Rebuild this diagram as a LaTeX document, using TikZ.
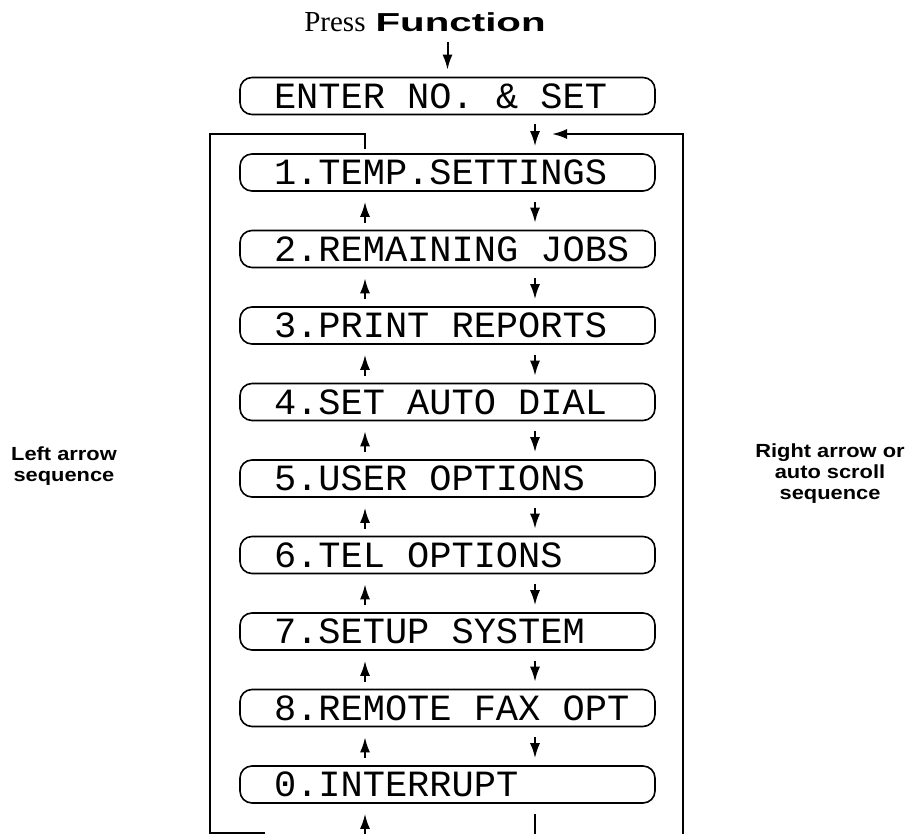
\documentclass[tikz,border=0pt]{standalone}
\usepackage{fontspec}
\setmainfont{Liberation Serif}
\newfontfamily\lcdfont{Liberation Mono}
\newfontfamily\widesans[FakeStretch=1.55]{Liberation Sans}
\newfontfamily\labelsans[FakeStretch=1.15]{Liberation Sans}
\usetikzlibrary{arrows.meta, positioning}
\newcommand\lcdsp{\hspace*{0.6em}}

\begin{document}
\begin{tikzpicture}[x=0.5pt, y=-0.5pt,
  menu/.style={draw, line width=0.8pt, rounded corners=6pt, minimum width=207.5pt, minimum height=18.5pt, inner xsep=10pt, inner ysep=0pt, text width=187.5pt, align=left, font=\lcdfont\fontsize{18.5}{20}\selectfont, execute at begin node={\hspace*{7pt}}},
  link/.style={line width=1pt},
  dnarrow/.style={link, -{Latex[length=7.5pt,width=5pt]}, shorten <=5pt, shorten >=3.5pt},
  uparrow/.style={link, -{Latex[length=7.5pt,width=5pt]}, shorten <=3.5pt, shorten >=5pt},
  side/.style={font=\labelsans\bfseries\fontsize{9.5}{10.5}\selectfont, align=center}]

  \useasboundingbox (0,0) rectangle (909,834);

  % Heading
  \node[anchor=base] (press) at (425,32) {{\fontsize{14.5}{16}\selectfont Press}\hspace{5pt}{\widesans\bfseries\fontsize{13}{15}\selectfont Function}};

  % Display messages
  \node[menu] (enter) at (447.5,96) {ENTER\lcdsp NO.\lcdsp\&\lcdsp SET};
  \node[menu] (b1) at (447.5,172.5) {1.TEMP.SETTINGS};
  \node[menu] (b2) at (447.5,249) {2.REMAINING\lcdsp JOBS};
  \node[menu] (b3) at (447.5,325.5) {3.PRINT\lcdsp REPORTS};
  \node[menu] (b4) at (447.5,402) {4.SET\lcdsp AUTO\lcdsp DIAL};
  \node[menu] (b5) at (447.5,478.5) {5.USER\lcdsp OPTIONS};
  \node[menu] (b6) at (447.5,555) {6.TEL\lcdsp OPTIONS};
  \node[menu] (b7) at (447.5,631.5) {7.SETUP\lcdsp SYSTEM};
  \node[menu] (b8) at (447.5,708) {8.REMOTE\lcdsp FAX\lcdsp OPT};
  \node[menu] (b0) at (447.5,784.5) {0.INTERRUPT};

  % Side labels
  \node[side] (leftlbl) at (64,466) {Left arrow\\sequence};
  \node[side] (rightlbl) at (830,474) {Right arrow or\\auto scroll\\sequence};

  % Arrow columns and loop corners
  \coordinate (ux) at (365,0);
  \coordinate (dx) at (535,0);
  \coordinate (ltop) at (210,134);
  \coordinate (lbot) at (210,833);
  \coordinate (lend) at (265,833);
  \coordinate (ubot) at (365,834);
  \coordinate (dbot) at (535,834);
  \coordinate (rbot) at (683,834);
  \coordinate (rtop) at (683,134);
  \coordinate (rtip) at (552,134);

  \draw[dnarrow, shorten <=1.5pt] (press.south -| enter) -- (enter.north);
  \draw[dnarrow, shorten <=4.5pt] (enter.south -| dx) -- (b1.north -| dx);

  \draw[dnarrow] (b1.south -| dx) -- (b2.north -| dx);
  \draw[uparrow] (b2.north -| ux) -- (b1.south -| ux);
  \draw[dnarrow] (b2.south -| dx) -- (b3.north -| dx);
  \draw[uparrow] (b3.north -| ux) -- (b2.south -| ux);
  \draw[dnarrow] (b3.south -| dx) -- (b4.north -| dx);
  \draw[uparrow] (b4.north -| ux) -- (b3.south -| ux);
  \draw[dnarrow] (b4.south -| dx) -- (b5.north -| dx);
  \draw[uparrow] (b5.north -| ux) -- (b4.south -| ux);
  \draw[dnarrow] (b5.south -| dx) -- (b6.north -| dx);
  \draw[uparrow] (b6.north -| ux) -- (b5.south -| ux);
  \draw[dnarrow] (b6.south -| dx) -- (b7.north -| dx);
  \draw[uparrow] (b7.north -| ux) -- (b6.south -| ux);
  \draw[dnarrow] (b7.south -| dx) -- (b8.north -| dx);
  \draw[uparrow] (b8.north -| ux) -- (b7.south -| ux);
  \draw[dnarrow] (b8.south -| dx) -- (b0.north -| dx);
  \draw[uparrow] (b0.north -| ux) -- (b8.south -| ux);

  % Left loop
  \draw[link, shorten <=2pt] (b1.north -| ux) |- (ltop) -- (lbot) -- (lend);
  \draw[uparrow, shorten <=0pt] (ubot) -- (b0.south -| ux);

  % Right loop
  \draw[link, shorten <=5pt] (b0.south -| dx) -- (dbot);
  \draw[link, -{Latex[length=7.5pt,width=5pt]}] (rbot) -- (rtop) -- (rtip);
\end{tikzpicture}
\end{document}
